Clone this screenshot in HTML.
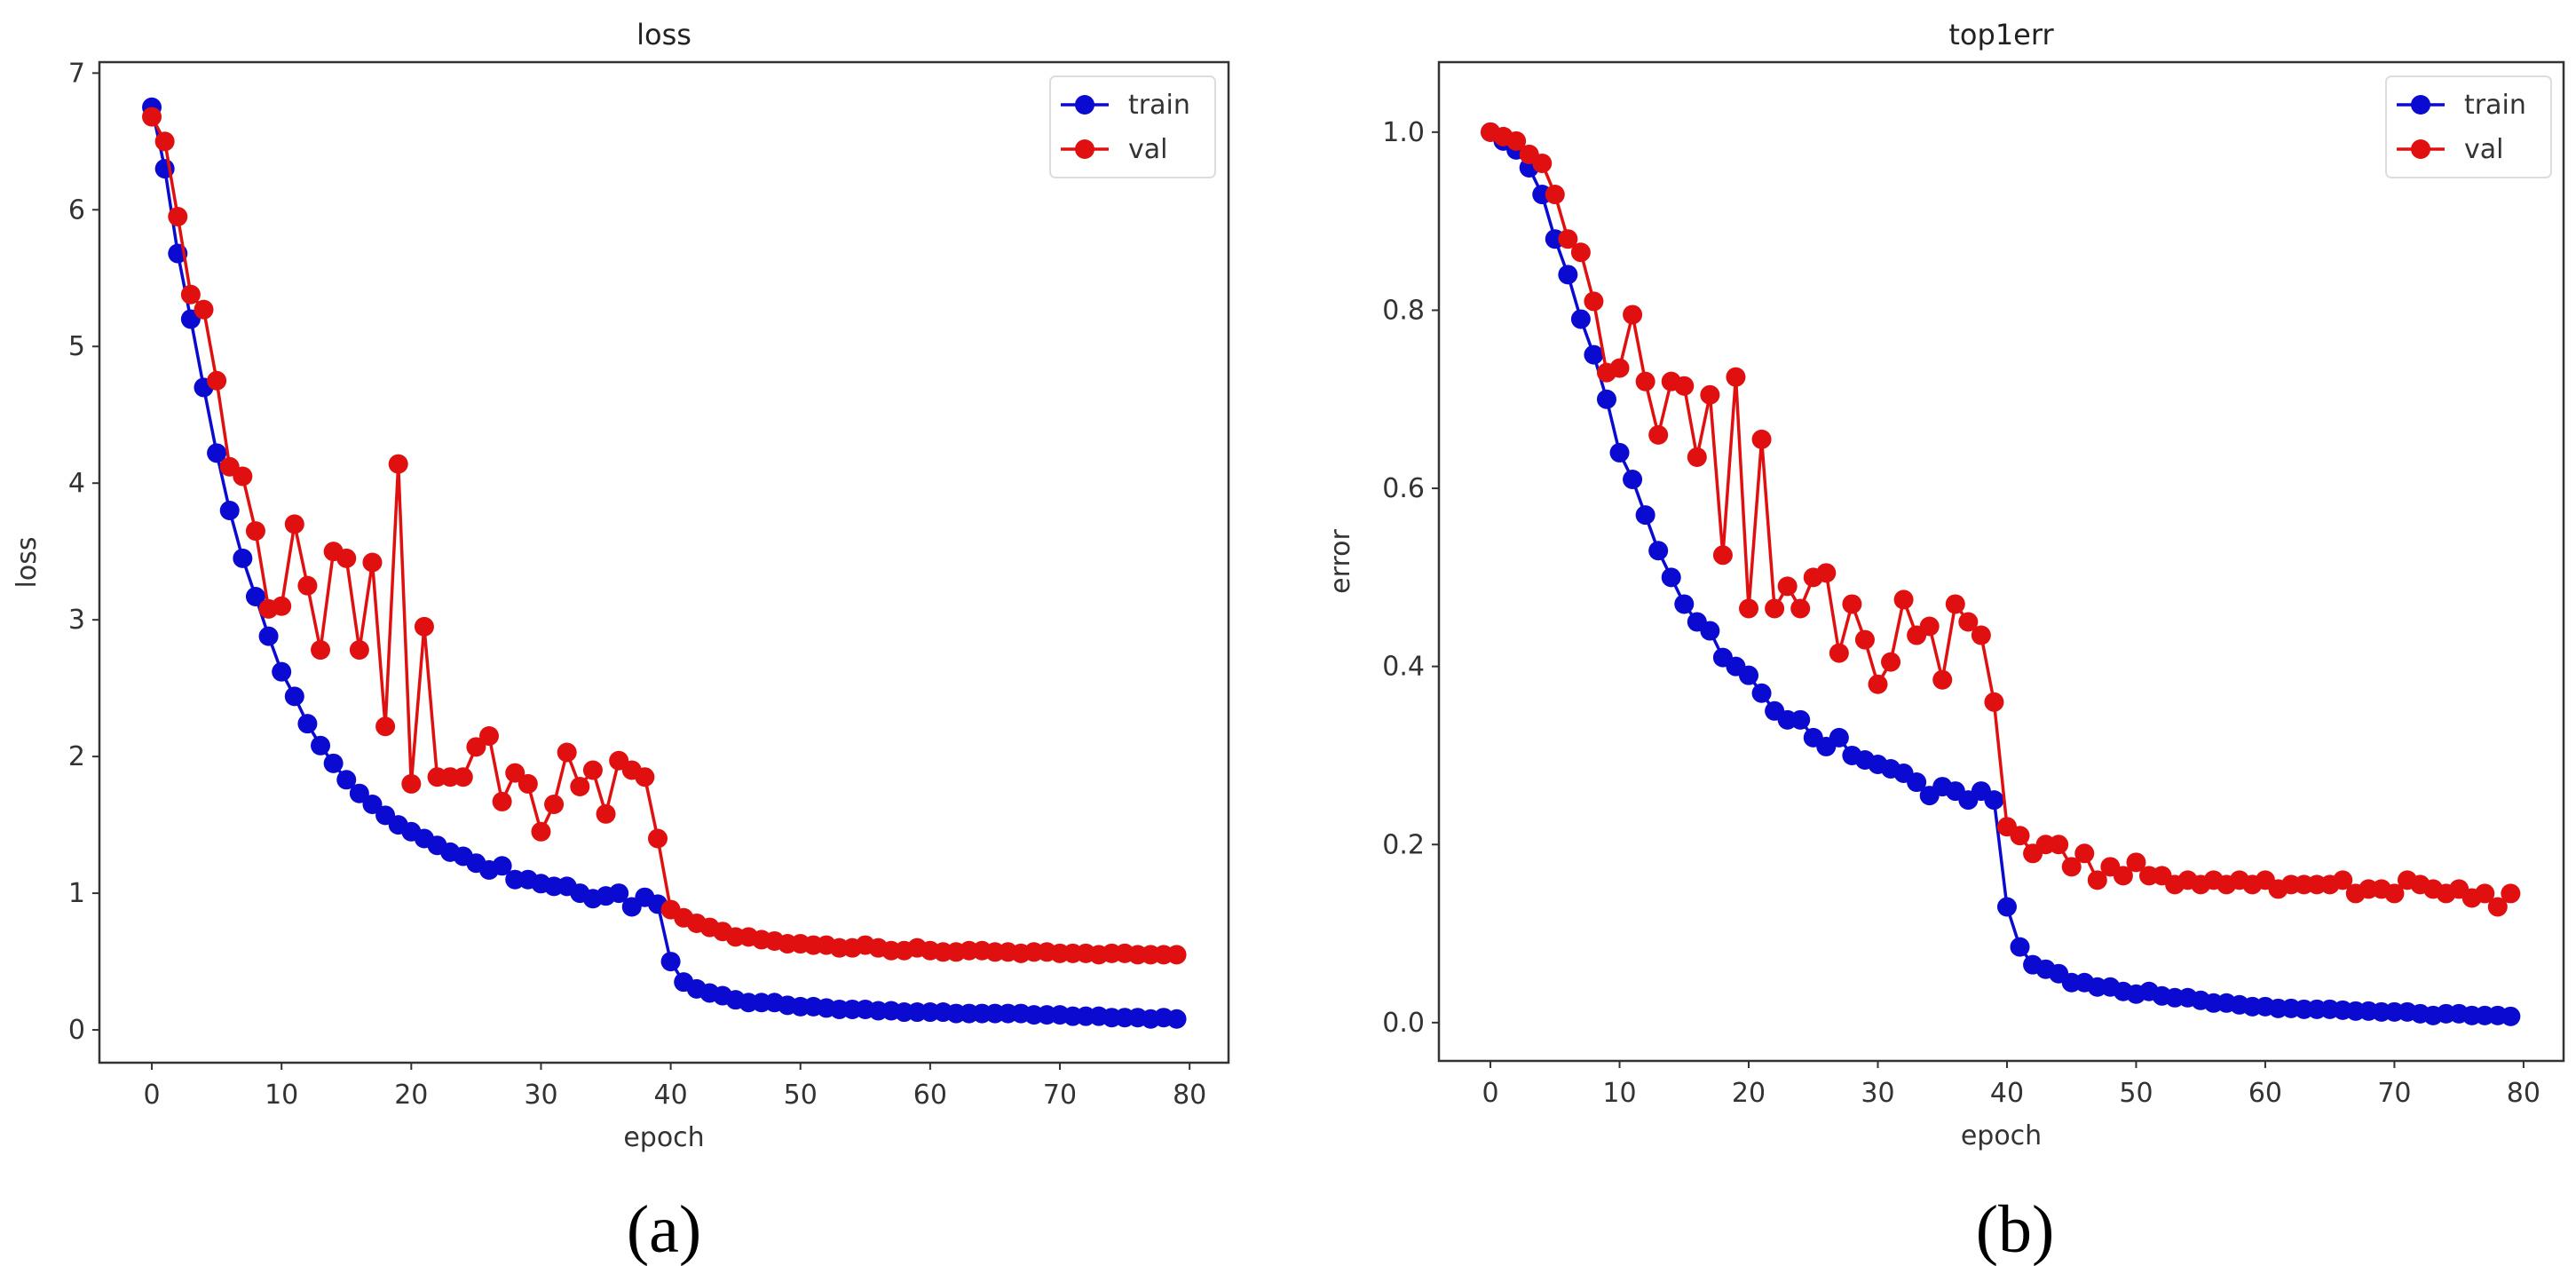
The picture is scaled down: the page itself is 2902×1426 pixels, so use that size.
<!DOCTYPE html>
<html><head><meta charset="utf-8"><style>
html,body{margin:0;padding:0;background:#fff;}
svg{display:block;font-family:"DejaVu Sans","Liberation Sans",sans-serif;}
</style></head><body>
<svg id="fig" width="2902" height="1426" viewBox="0 0 2902 1426"></svg>
<script>
const epochs = Array.from({length:80},(_,i)=>i);
const lossTrain = [6.75,6.3,5.68,5.2,4.7,4.22,3.8,3.45,3.17,2.88,2.62,2.44,2.24,2.08,1.95,1.83,1.73,1.65,1.57,1.5,1.45,1.4,1.35,1.3,1.27,1.22,1.17,1.2,1.1,1.1,1.07,1.05,1.05,1.0,0.96,0.98,1.0,0.9,0.97,0.92,0.5,0.35,0.3,0.27,0.25,0.22,0.2,0.2,0.2,0.18,0.17,0.17,0.16,0.15,0.15,0.15,0.14,0.14,0.13,0.13,0.13,0.13,0.12,0.12,0.12,0.12,0.12,0.12,0.11,0.11,0.11,0.1,0.1,0.1,0.09,0.09,0.09,0.08,0.09,0.08];
const lossVal = [6.68,6.5,5.95,5.38,5.27,4.75,4.12,4.05,3.65,3.08,3.1,3.7,3.25,2.78,3.5,3.45,2.78,3.42,2.22,4.14,1.8,2.95,1.85,1.85,1.85,2.07,2.15,1.67,1.88,1.8,1.45,1.65,2.03,1.78,1.9,1.58,1.97,1.9,1.85,1.4,0.88,0.82,0.78,0.75,0.72,0.68,0.68,0.66,0.65,0.63,0.63,0.62,0.62,0.6,0.6,0.62,0.6,0.58,0.58,0.6,0.58,0.57,0.57,0.58,0.58,0.57,0.57,0.56,0.57,0.57,0.56,0.56,0.56,0.55,0.56,0.56,0.55,0.55,0.55,0.55];
const errTrain = [1.0,0.99,0.98,0.96,0.93,0.88,0.84,0.79,0.75,0.70,0.64,0.61,0.57,0.53,0.50,0.47,0.45,0.44,0.41,0.40,0.39,0.37,0.35,0.34,0.34,0.32,0.31,0.32,0.30,0.295,0.29,0.285,0.28,0.27,0.255,0.265,0.26,0.25,0.26,0.25,0.13,0.085,0.065,0.06,0.055,0.045,0.045,0.04,0.04,0.035,0.032,0.035,0.03,0.028,0.028,0.025,0.022,0.022,0.02,0.018,0.018,0.016,0.016,0.015,0.015,0.015,0.014,0.013,0.013,0.012,0.012,0.012,0.01,0.008,0.01,0.01,0.008,0.008,0.008,0.007];
const errVal = [1.0,0.995,0.99,0.975,0.965,0.93,0.88,0.865,0.81,0.73,0.735,0.795,0.72,0.66,0.72,0.715,0.635,0.705,0.525,0.725,0.465,0.655,0.465,0.49,0.465,0.5,0.505,0.415,0.47,0.43,0.38,0.405,0.475,0.435,0.445,0.385,0.47,0.45,0.435,0.36,0.22,0.21,0.19,0.2,0.2,0.175,0.19,0.16,0.175,0.165,0.18,0.165,0.165,0.155,0.16,0.155,0.16,0.155,0.16,0.155,0.16,0.15,0.155,0.155,0.155,0.155,0.16,0.145,0.15,0.15,0.145,0.16,0.155,0.15,0.145,0.15,0.14,0.145,0.13,0.145];
const xTicks = [0,10,20,30,40,50,60,70,80];
const lossYTicks = [0,1,2,3,4,5,6,7];
const errYTicks = [0,0.2,0.4,0.6,0.8,1.0];
const errYLabels = ["0.0","0.2","0.4","0.6","0.8","1.0"];

const NS="http://www.w3.org/2000/svg";
const svg=document.getElementById('fig');
function mk(tag,attrs,parent){const e=document.createElementNS(NS,tag);for(const k in attrs)e.setAttribute(k,attrs[k]);(parent||svg).appendChild(e);return e;}
const BLUE="#0a0ad0", RED="#e01010";

function panel(p){
  const g=mk('g',{});
  
  
  const sx=v=>p.L+(v-p.xmin)/(p.xmax-p.xmin)*(p.R-p.L);
  const sy=v=>p.B-(v-p.ymin)/(p.ymax-p.ymin)*(p.B-p.T);
  [[p.train,BLUE,'train'],[p.val,RED,'val']].forEach(([d,c,n])=>{
    const sg=mk('g',{},g);
    
    
    const pts=d.map((v,i)=>sx(epochs[i]).toFixed(1)+','+sy(v).toFixed(1)).join(' ');
    const pl=mk('polyline',{points:pts,fill:'none',stroke:c,'stroke-width':3.5},sg);
    
    
    d.forEach((v,i)=>{
      const m=mk('circle',{cx:sx(epochs[i]),cy:sy(v),r:11,fill:c},sg);
      
      
    });
  });
  const fr=mk('rect',{x:p.L,y:p.T,width:p.R-p.L,height:p.B-p.T,fill:'none',stroke:'#333','stroke-width':2.5},g);
  
  
  xTicks.forEach(t=>{
    const x=sx(t);
    mk('line',{x1:x,x2:x,y1:p.B,y2:p.B+8,stroke:'#333','stroke-width':2},g);
    const tx=mk('text',{x:x,y:p.B+46,'font-size':30,'text-anchor':'middle',fill:'#333'},g);
    tx.textContent=t;
    
    
  });
  p.yticks.forEach((t,i)=>{
    const y=sy(t);
    mk('line',{x1:p.L-8,x2:p.L,y1:y,y2:y,stroke:'#333','stroke-width':2},g);
    const tx=mk('text',{x:p.L-16,y:y+10,'font-size':30,'text-anchor':'end',fill:'#333'},g);
    tx.textContent=p.ylabels[i];
    
    
  });
  const ti=mk('text',{x:(p.L+p.R)/2,y:p.T-20,'font-size':32,'text-anchor':'middle',fill:'#222'},g);
  ti.textContent=p.title;
  
  
  const xl=mk('text',{x:(p.L+p.R)/2,y:p.B+94,'font-size':30,'text-anchor':'middle',fill:'#333'},g);
  xl.textContent='epoch';
  
  
  const yl=mk('text',{x:0,y:0,'font-size':30,'text-anchor':'middle',fill:'#333',transform:`translate(${p.ylx},${(p.T+p.B)/2}) rotate(-90)`},g);
  yl.textContent=p.ylabel;
  
  
  const lg=mk('g',{},g);
  
  
  mk('rect',{x:p.lgx,y:86,width:186,height:114,rx:6,fill:'#fff',stroke:'#ddd','stroke-width':2},lg);
  [['train',BLUE,118],['val',RED,168]].forEach(([n,c,y])=>{
    const e=mk('g',{},lg);
    
    
    mk('line',{x1:p.lgx+12,x2:p.lgx+66,y1:y,y2:y,stroke:c,'stroke-width':3.5},e);
    mk('circle',{cx:p.lgx+39,cy:y,r:11,fill:c},e);
    const t=mk('text',{x:p.lgx+88,y:y+10,'font-size':30,fill:'#333'},e);
    t.textContent=n;
  });
  const cap=mk('text',{x:p.capx,y:1410,'font-size':76,'text-anchor':'middle',fill:'#000','font-family':'"Liberation Serif",serif'},g);
  cap.textContent=p.caption;
  
  
}
panel({name:'loss-chart',L:112,R:1384,T:70,B:1197,xmin:-4.04,xmax:83.0,ymin:-0.24,ymax:7.08,
  train:lossTrain,val:lossVal,yticks:lossYTicks,ylabels:lossYTicks.map(String),title:'loss',ylabel:'loss',ylx:40,lgx:1183,capx:748,caption:'(a)'});
panel({name:'error-chart',L:1621,R:2888,T:70,B:1195,xmin:-3.99,xmax:83.1,ymin:-0.043,ymax:1.0786,
  train:errTrain,val:errVal,yticks:errYTicks,ylabels:errYLabels,title:'top1err',ylabel:'error',ylx:1520,lgx:2688,capx:2270,caption:'(b)'});
</script>
</body></html>
